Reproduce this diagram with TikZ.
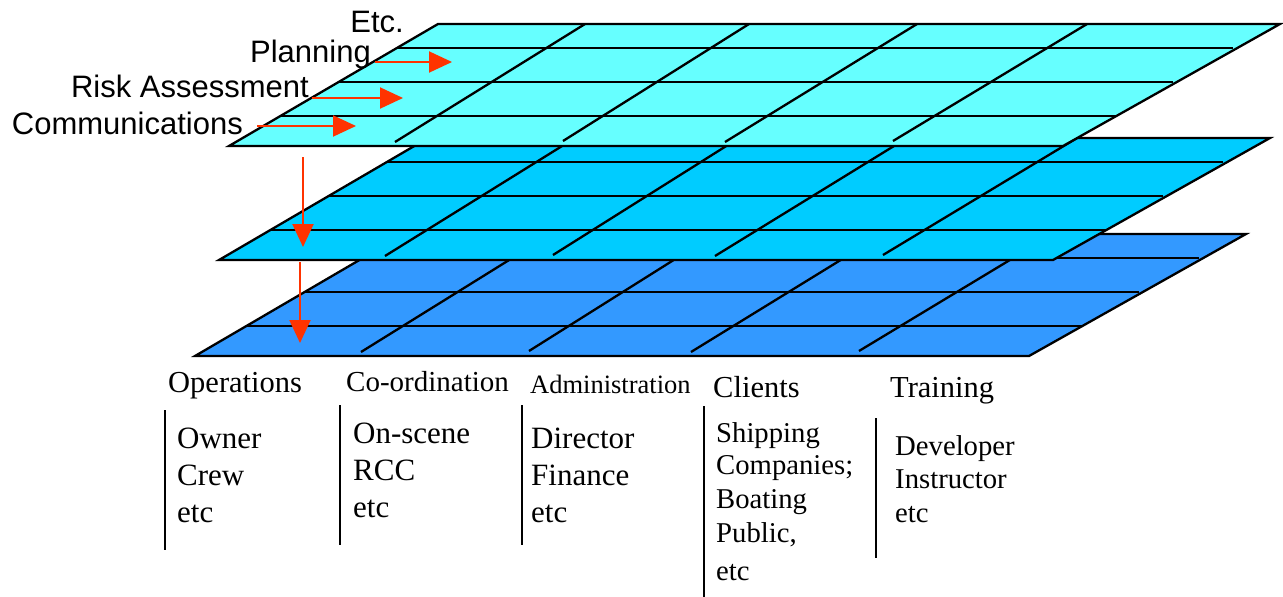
\documentclass[tikz,border=0pt]{standalone}
\usepackage{fontspec}
\setmainfont{Liberation Serif}
\newfontfamily\arialfont{Liberation Sans}
\usetikzlibrary{arrows.meta}
\definecolor{layerTop}{HTML}{66FFFF}
\definecolor{layerMid}{HTML}{00CCFF}
\definecolor{layerLow}{HTML}{3399FF}
\definecolor{arrowRed}{HTML}{FF3300}

\begin{document}
\begin{tikzpicture}[x=1pt, y=-1pt,
		layer/.style={draw=black, line width=2.3pt, line join=miter},
		gridline/.style={black, line width=2.3pt},
		flow/.style={arrowRed, line width=2pt, -{Triangle[length=23pt,width=21pt]}},
		tag/.style={inner sep=0pt, anchor=base east, font=\arialfont\fontsize{31}{37}\selectfont},
		head/.style={inner sep=0pt, anchor=base west, font=\fontsize{30.5}{36}\selectfont},
		item/.style={inner sep=0pt, anchor=base west, font=\fontsize{31}{37}\selectfont},
		itemsm/.style={inner sep=0pt, anchor=base west, font=\fontsize{28.7}{34}\selectfont},
		bar/.style={black, line width=2.2pt}]
		\useasboundingbox (0,0) rectangle (1283,597);
		%-------------------------------------------------------------------------------
		% layers (lowest first)
		%-------------------------------------------------------------------------------
		\foreach \dx/\dy/\col in {-34/210/layerLow, -10/114/layerMid, 0/0/layerTop}{
			\begin{scope}[shift={(\dx,\dy)}]
				\filldraw[layer, fill=\col] (438,24) -- (1280,24) -- (1063,146) -- (229,146) -- cycle;
				% rows
				\draw[gridline] (397,48) -- (1233,48);
				\draw[gridline] (339,82) -- (1173,82);
				\draw[gridline] (280,116) -- (1116,116);
				% columns
				\draw[gridline] (585,24) -- (395,142);
				\draw[gridline] (749,24) -- (563,141);
				\draw[gridline] (917,24) -- (725,142);
				\draw[gridline] (1087,24) -- (893,141);
			\end{scope}
		}
		
		% labels of the top layer
		\node[tag] (etc) at (404,32) {Etc.};
		\node[tag] (planning) at (371,62) {Planning};
		\node[tag] (risk) at (309,97) {Risk Assessment};
		\node[tag] (comms) at (243,134) {Communications};
		
		% arrows
		\coordinate (planS) at (375,62);
		\coordinate (planT) at (452,62);
		\coordinate (riskS) at (312,98);
		\coordinate (riskT) at (403,98);
		\coordinate (commS) at (257,126);
		\coordinate (commT) at (356,126);
		\coordinate (downA) at (303,157);
		\coordinate (downB) at (303,247);
		\coordinate (downC) at (300,262);
		\coordinate (downD) at (300,343);
		\draw[flow] (planS) -- (planT);
		\draw[flow] (riskS) -- (riskT);
		\draw[flow] (commS) -- (commT);
		\draw[flow] (downA) -- (downB);
		\draw[flow] (downC) -- (downD);
		
		%-------------------------------------------------------------------------------
		% columns under the layers
		%-------------------------------------------------------------------------------
		\node[head] (ops) at (168,392) {Operations};
		\node[head, font=\fontsize{29}{35}\selectfont] (coord) at (346,391) {Co-ordination};
		\node[head, font=\fontsize{26.5}{32}\selectfont] (admin) at (530,393) {Administration};
		\node[head] (clients) at (713,397) {Clients};
		\node[head] (training) at (890,397) {Training};
		
		\draw[bar] (165,410) -- (165,550);
		\draw[bar] (340,405) -- (340,545);
		\draw[bar] (522,405) -- (522,545);
		\draw[bar] (704,406) -- (704,597);
		\draw[bar] (876,418) -- (876,558);
		
		\foreach \t/\y [count=\i] in {Owner/448, Crew/485, etc/522}
			\node[item] (ops\i) at (177,\y) {\t};
		\foreach \t/\y [count=\i] in {On-scene/443, RCC/480, etc/517}
			\node[item] (coord\i) at (353,\y) {\t};
		\foreach \t/\y [count=\i] in {Director/448, Finance/485, etc/522}
			\node[item] (admin\i) at (531,\y) {\t};
		\foreach \t/\y [count=\i] in {Shipping/442, Companies;/474, Boating/508, {Public,}/542, etc/580}
			\node[itemsm] (clients\i) at (716,\y) {\t};
		\foreach \t/\y [count=\i] in {Developer/455, Instructor/488, etc/522}
			\node[itemsm] (training\i) at (895,\y) {\t};
\end{tikzpicture}
\end{document}
